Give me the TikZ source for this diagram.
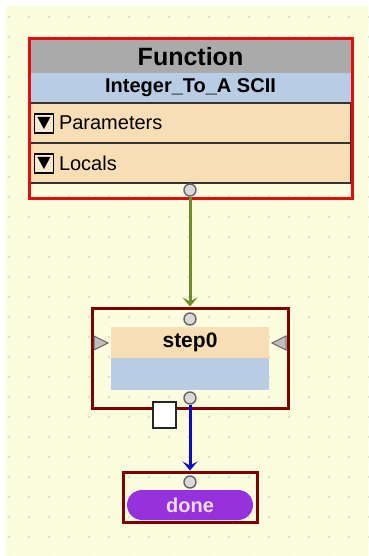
\documentclass[tikz,border=0pt]{standalone}
\usepackage{fontspec}
\setmainfont{Liberation Sans}
\usetikzlibrary{arrows.meta}
\definecolor{canvas}{RGB}{252,252,222}
\definecolor{griddot}{RGB}{222,222,200}
\definecolor{headgray}{RGB}{170,170,170}
\definecolor{rowblue}{RGB}{184,204,228}
\definecolor{rowtan}{RGB}{248,222,180}
\definecolor{funcred}{RGB}{228,12,12}
\definecolor{stepred}{RGB}{128,0,0}
\definecolor{linkgreen}{RGB}{110,142,40}
\definecolor{linkblue}{RGB}{10,10,200}
\definecolor{donepurple}{RGB}{150,50,220}
\definecolor{donetext}{RGB}{236,220,255}
\begin{document}
\begin{tikzpicture}[x=1pt, y=-1pt, >={Stealth[length=9pt,width=15pt,inset=4pt]}]
  \tikzset{row/.style={draw=black!80, line width=1.2pt, inner sep=0pt, minimum width=321pt},
    port/.style={circle, draw=black!60, fill=black!15, line width=1.4pt, minimum size=12pt, inner sep=0pt},
    frame/.style={draw, line width=3pt, inner sep=0pt},
    tri/.style={draw=black!60, fill=black!25, line width=1pt}}
  \useasboundingbox (0,0) rectangle (368,556);
  \fill[white] (0,0) rectangle (368,556);
  \fill[canvas] (6,6) rectangle (368,556);
  % grid dots
  \foreach \gx in {9,29,...,369} {
    \foreach \gy in {17,37,...,557} {
      \fill[griddot] (\gx,\gy) circle (1.3pt);
    }
  }
  % function block
  \node[row, fill=headgray, draw=none, minimum height=33pt] (fhead) at (190.5,56.5) {\fontsize{25}{27}\selectfont\bfseries Function};
  \node[row, fill=rowblue, draw=none, minimum height=30pt] (fname) at (190.5,88) {\fontsize{20}{22}\selectfont\bfseries Integer\_To\_A SCII};
  \node[row, fill=rowtan, minimum height=40pt, align=left, text width=263pt] (fparams) at (190.5,123) {\fontsize{20}{22}\selectfont Parameters};
  \node[row, fill=rowtan, minimum height=40pt, align=left, text width=263pt] (flocals) at (190.5,163) {\fontsize{20}{22}\selectfont Locals};
  \foreach \r in {fparams, flocals} {
    \draw[black, line width=1.2pt, fill=rowtan!60!white] ([xshift=5pt, yshift=-10pt]\r.west) rectangle ([xshift=24pt, yshift=9pt]\r.west);
    \fill[black] ([xshift=8pt, yshift=6pt]\r.west) -- ([xshift=21pt, yshift=6pt]\r.west) -- ([xshift=14.5pt, yshift=-6pt]\r.west) -- cycle;
  }
  \node[frame, draw=funcred, minimum width=323pt, minimum height=159pt] (func) at (190.5,118.5) {};
  \node[port] (fout) at (190,190) {};
  % step block
  \node[frame, draw=stepred, minimum width=196pt, minimum height=100pt] (step) at (190,358) {};
  \node[fill=rowtan, inner sep=0pt, minimum width=158pt, minimum height=31pt] (sthead) at (190,342.5) {\fontsize{21}{23}\selectfont\bfseries step0};
  \node[fill=rowblue, inner sep=0pt, minimum width=158pt, minimum height=32pt] (stbody) at (190,374) {};
  \node[port] (stin) at (190,319) {};
  \node[port] (stout) at (190,398) {};
  \draw[tri] (94,336) -- (108,343) -- (94,350) -- cycle;
  \draw[tri] (286,336) -- (272,343) -- (286,350) -- cycle;
  \node[draw=black!85, fill=white, line width=1.4pt, minimum width=23pt, minimum height=26pt, inner sep=0pt] (stflag) at (164.5,415) {};
  % done block
  \node[frame, draw=stepred, minimum width=134pt, minimum height=50pt] (done) at (190,497) {};
  \node[fill=donepurple, rounded corners=15pt, inner sep=0pt, minimum width=126pt, minimum height=30pt, text=donetext] (donepill) at (190,505) {\fontsize{20}{22}\selectfont\bfseries done};
  \node[port] (donein) at (190,482) {};
  % links
  \draw[->, linkgreen, line width=3pt] (fout) -- (step.north);
  \draw[->, linkblue, line width=3pt] (stout) -- (done.north);
\end{tikzpicture}
\end{document}
